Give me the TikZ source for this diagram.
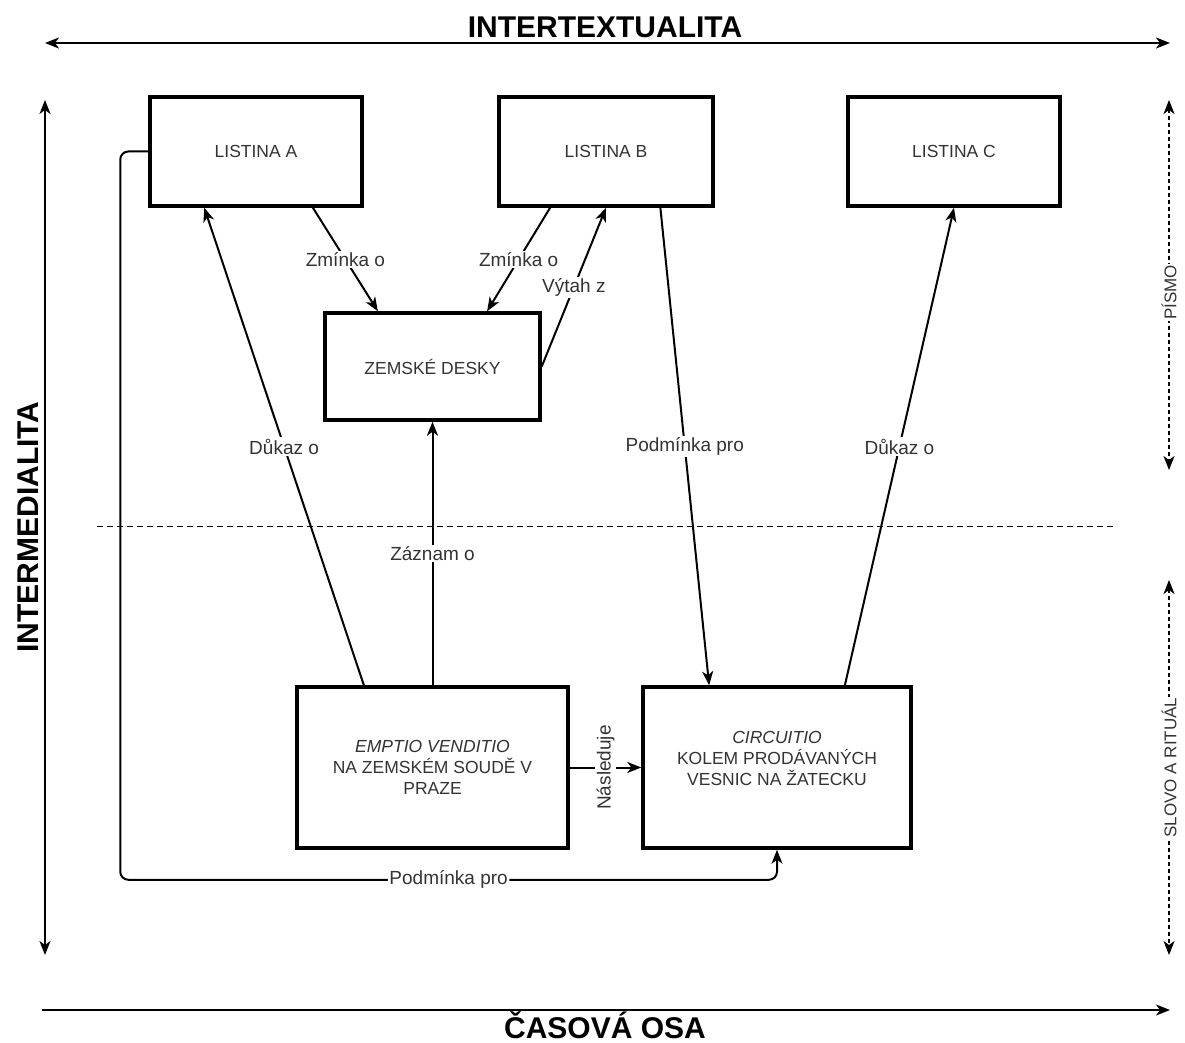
\documentclass[tikz,border=0pt]{standalone}
\usepackage{fontspec}
\setmainfont{Liberation Sans}
\usetikzlibrary{arrows.meta,calc}
\definecolor{txt}{HTML}{333333}
\tikzset{
  box/.style={draw, line width=3.5pt, fill=white, align=center, text=txt,
    font=\fontsize{17.5}{21}\selectfont, inner sep=2pt},
  conn/.style={line width=2pt, ->},
  lbl/.style={fill=white, text=txt, font=\fontsize{19}{22}\selectfont, inner sep=1.5pt},
  sidelbl/.style={fill=white, text=txt, font=\fontsize{17}{20}\selectfont, inner sep=1pt},
  axisline/.style={line width=1.8pt},
  sidedash/.style={line width=1.8pt, dash pattern=on 4pt off 3pt},
  ttl/.style={font=\fontsize{30}{36}\selectfont\bfseries, text=black, inner sep=0pt},
}
\begin{document}
\begin{tikzpicture}[x=1pt,y=-1pt,>={Stealth[length=14pt,width=11pt,inset=4pt]}]
\useasboundingbox (0,0) rectangle (1185,1043);

% axes
\coordinate (tl) at (45,43);
\coordinate (tr) at (1170,43);
\coordinate (bl) at (42,1010);
\coordinate (br) at (1170,1010);
\coordinate (vt) at (45,100);
\coordinate (vb) at (45,955);
\coordinate (rt1) at (1169,100);
\coordinate (rb1) at (1169,470);
\coordinate (rt2) at (1169,580);
\coordinate (rb2) at (1169,955);
\coordinate (dl) at (97,526);
\coordinate (dr) at (1113,526);

\draw[axisline,<->] (tl) -- (tr);
\draw[axisline,->] (bl) -- (br);
\draw[axisline,<->] (vt) -- (vb);
\draw[sidedash,<->] (rt1) -- node[sidelbl, rotate=90, pos=0.52] (pismo) {PÍSMO} (rb1);
\draw[sidedash,<->] (rt2) -- node[sidelbl, rotate=90, pos=0.5] (slovo) {SLOVO A RITUÁL} (rb2);
\draw[line width=1pt, dash pattern=on 6pt off 4pt] (dl) -- (dr);

\node[ttl, anchor=base] (t1) at (605,38) {INTERTEXTUALITA};
\node[ttl, anchor=base] (t2) at (605,1038) {ČASOVÁ OSA};
\node[ttl, rotate=90] (t3) at (28,527) {INTERMEDIALITA};

% boxes
\node[box, minimum width=212pt, minimum height=109pt] (la) at (256,151.5) {LISTINA A};
\node[box, minimum width=214pt, minimum height=109pt] (lb) at (606,151.5) {LISTINA B};
\node[box, minimum width=212pt, minimum height=109pt] (lc) at (954,151.5) {LISTINA C};
\node[box, minimum width=215pt, minimum height=107pt] (zd) at (432.5,366.5) {ZEMSKÉ DESKY};
\node[box, minimum width=271pt, minimum height=161pt] (ev) at (432.5,767.5)
  {\textit{EMPTIO VENDITIO}\\NA ZEMSKÉM SOUDĚ V\\PRAZE};
\node[box, minimum width=268pt, minimum height=161pt] (ci) at (777,767.5)
  {\textit{CIRCUITIO}\\KOLEM PRODÁVANÝCH\\VESNIC NA ŽATECKU\\[-10pt]\strut};

% connectors
\draw[conn] ($(la.south west)!0.764!(la.south east)$) -- node[lbl] {Zmínka o}
  ($(zd.north west)!0.25!(zd.north east)$);
\draw[conn] ($(lb.south west)!0.243!(lb.south east)$) -- node[lbl] {Zmínka o}
  ($(zd.north west)!0.75!(zd.north east)$);
\draw[conn] (zd.east) -- node[lbl] {Výtah z} (lb.south);
\draw[conn] ($(ev.north west)!0.25!(ev.north east)$) -- node[lbl] {Důkaz o}
  ($(la.south west)!0.26!(la.south east)$);
\draw[conn] (ev.north) -- node[lbl] {Záznam o} (zd.south);
\draw[conn] ($(lb.south west)!0.75!(lb.south east)$) -- node[lbl] {Podmínka pro}
  ($(ci.north west)!0.25!(ci.north east)$);
\draw[conn] ($(ci.north west)!0.75!(ci.north east)$) -- node[lbl] {Důkaz o} (lc.south);
\draw[conn] (ev.east) -- node[lbl, rotate=90] {Následuje} (ci.west);
\draw[conn, rounded corners=8pt] (la.west) -- ++(-28,0) coordinate (c1)
  |- ($(ci.south)+(0,30)$) node[lbl, pos=0.75] {Podmínka pro} -- (ci.south);
\end{tikzpicture}
\end{document}
